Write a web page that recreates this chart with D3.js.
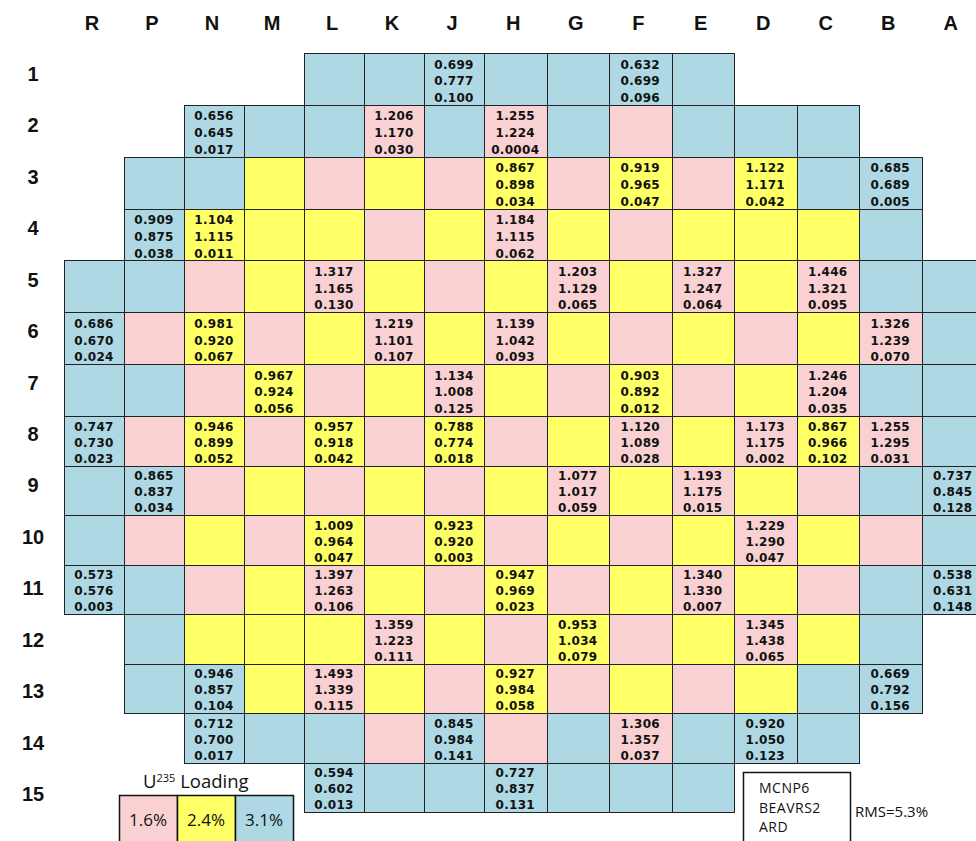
<!DOCTYPE html>
<html>
<meta charset="utf-8">
<title>Core map</title>
<style>
  html, body { margin: 0; padding: 0; background: #fff; }
  .hdr { font-family: "Liberation Sans", Arial, sans-serif; font-weight: bold; font-size: 20px; fill: #111; }
  .val { font-family: "DejaVu Sans", Verdana, sans-serif; font-weight: bold; font-size: 12px; fill: #111; letter-spacing: 0.3px; }
  .cell { stroke: #222; stroke-width: 1; shape-rendering: crispEdges; }
  .lg { font-family: "Open Sans", Lato, sans-serif; fill: #111; }
</style>
<body>
<div id="chart"></div>
<script src="https://cdn.jsdelivr.net/npm/d3@7"></script>
<script>
// assembly columns and rows
var colLetters = ["R", "P", "N", "M", "L", "K", "J", "H", "G", "F", "E", "D", "C", "B", "A"];
var rowNumbers = [1, 2, 3, 4, 5, 6, 7, 8, 9, 10, 11, 12, 13, 14, 15];

// U235 loading per position: p = 1.6%, y = 2.4%, b = 3.1%, . = no assembly
var loadingMap = [
  "....bbbbbbb....",
  "..bbbpbpbpbbb..",
  ".bbypypypypybb.",
  ".byyypypypyyyb.",
  "bbpypypypypypbb",
  "bpypypypypypypb",
  "bbpypypypypypbb",
  "bpypypypypypypb",
  "bbpypypypypypbb",
  "bpypypypypypypb",
  "bbpypypypypypbb",
  ".byyypypypypyb.",
  ".bbypypypypybb.",
  "..bbbpbpbpbbb..",
  "....bbbbbbb...."
];

// instrumented positions: MCNP6, BEAVRS2 measured, difference
var cellIds = ["J1", "F1", "N2", "K2", "H2", "H3", "F3", "D3", "B3", "P4", "N4", "H4",
  "L5", "G5", "E5", "C5", "R6", "N6", "K6", "H6", "B6", "M7", "J7", "F7", "C7",
  "R8", "N8", "L8", "J8", "F8", "D8", "C8", "B8", "P9", "G9", "E9", "A9",
  "L10", "J10", "D10", "R11", "L11", "H11", "E11", "A11", "K12", "G12", "D12",
  "N13", "L13", "H13", "B13", "N14", "J14", "F14", "D14", "L15", "H15"];
var mcnpValues = [0.699, 0.632, 0.656, 1.206, 1.255, 0.867, 0.919, 1.122, 0.685, 0.909, 1.104, 1.184,
  1.317, 1.203, 1.327, 1.446, 0.686, 0.981, 1.219, 1.139, 1.326, 0.967, 1.134, 0.903, 1.246,
  0.747, 0.946, 0.957, 0.788, 1.120, 1.173, 0.867, 1.255, 0.865, 1.077, 1.193, 0.737,
  1.009, 0.923, 1.229, 0.573, 1.397, 0.947, 1.340, 0.538, 1.359, 0.953, 1.345,
  0.946, 1.493, 0.927, 0.669, 0.712, 0.845, 1.306, 0.920, 0.594, 0.727];
var measuredValues = [0.777, 0.699, 0.645, 1.170, 1.224, 0.898, 0.965, 1.171, 0.689, 0.875, 1.115, 1.115,
  1.165, 1.129, 1.247, 1.321, 0.670, 0.920, 1.101, 1.042, 1.239, 0.924, 1.008, 0.892, 1.204,
  0.730, 0.899, 0.918, 0.774, 1.089, 1.175, 0.966, 1.295, 0.837, 1.017, 1.175, 0.845,
  0.964, 0.920, 1.290, 0.576, 1.263, 0.969, 1.330, 0.631, 1.223, 1.034, 1.438,
  0.857, 1.339, 0.984, 0.792, 0.700, 0.984, 1.357, 1.050, 0.602, 0.837];
var ardValues = [0.100, 0.096, 0.017, 0.030, 0.0004, 0.034, 0.047, 0.042, 0.005, 0.038, 0.011, 0.062,
  0.130, 0.065, 0.064, 0.095, 0.024, 0.067, 0.107, 0.093, 0.070, 0.056, 0.125, 0.012, 0.035,
  0.023, 0.052, 0.042, 0.018, 0.028, 0.002, 0.102, 0.031, 0.034, 0.059, 0.015, 0.128,
  0.047, 0.003, 0.047, 0.003, 0.106, 0.023, 0.007, 0.148, 0.111, 0.079, 0.065,
  0.104, 0.115, 0.058, 0.156, 0.017, 0.141, 0.037, 0.123, 0.013, 0.131];

var loadingKeys = ["p", "y", "b"];
var loadingLabels = ["1.6%", "2.4%", "3.1%"];
var legendTitle = "Loading";
var boxLines = ["MCNP6", "BEAVRS2", "ARD"];
var rmsText = "RMS=5.3%";

var width = 976, height = 841;

var fill = d3.scaleOrdinal()
  .domain(loadingKeys)
  .range(["#f9d1d3", "#ffff66", "#add8e4"]);

// the picture is a little wider on the right half and shorter on the lower half
var x = d3.scaleLinear().domain([0, 7, 15]).range([64, 484, 984]);
var y = d3.scaleLinear().domain([0, 7, 15]).range([53, 416, 812]);
// row numbers are spaced evenly, not quite on the cell centres
var rowLabelY = d3.scalePoint().domain(rowNumbers).range([74, 794]);

function fmt(v) {
  return (v > 0 && v < 0.001) ? v.toFixed(4) : v.toFixed(3);
}

var svg = d3.select("#chart").append("svg")
  .attr("width", width)
  .attr("height", height);

var cells = [];
loadingMap.forEach(function(row, r) {
  row.split("").forEach(function(k, c) {
    if (k !== ".") cells.push({ r: r, c: c, k: k });
  });
});

svg.append("g").selectAll("rect")
  .data(cells)
  .enter().append("rect")
  .attr("class", "cell")
  .attr("x", function(d) { return Math.round(x(d.c)) + 0.5; })
  .attr("y", function(d) { return Math.round(y(d.r)) + 0.5; })
  .attr("width", function(d) { return Math.round(x(d.c + 1)) - Math.round(x(d.c)); })
  .attr("height", function(d) { return Math.round(y(d.r + 1)) - Math.round(y(d.r)); })
  .style("fill", function(d) { return fill(d.k); });

// values
var readings = cellIds.map(function(id, i) {
  return {
    c: colLetters.indexOf(id[0]),
    r: +id.slice(1) - 1,
    lines: [mcnpValues[i], measuredValues[i], ardValues[i]]
  };
});

var vg = svg.append("g").selectAll("text")
  .data(readings)
  .enter().append("text")
  .attr("class", "val")
  .attr("text-anchor", "middle");

vg.selectAll("tspan")
  .data(function(d) {
    return d.lines.map(function(v, j) { return { d: d, v: v, j: j }; });
  })
  .enter().append("tspan")
  .attr("x", function(t) { return (x(t.d.c) + x(t.d.c + 1)) / 2; })
  .attr("y", function(t) {
    var top = y(t.d.r), h = y(t.d.r + 1) - top;
    return top + h * (0.3 + t.j * 0.322);
  })
  .text(function(t) { return fmt(t.v); });

// column letters and row numbers
svg.append("g").selectAll("text")
  .data(colLetters)
  .enter().append("text")
  .attr("class", "hdr")
  .attr("text-anchor", "middle")
  .attr("x", function(d, i) { return (x(i) + x(i + 1)) / 2 - 2; })
  .attr("y", 30)
  .text(function(d) { return d; });

svg.append("g").selectAll("text")
  .data(rowNumbers)
  .enter().append("text")
  .attr("class", "hdr")
  .attr("text-anchor", "middle")
  .attr("x", 33)
  .attr("y", function(d) { return rowLabelY(d) + 7; })
  .text(function(d) { return d; });

// legend
var lt = svg.append("text")
  .attr("class", "lg")
  .attr("x", 143)
  .attr("y", 788)
  .style("font-size", "18.5px");
lt.append("tspan").text("U");
lt.append("tspan").attr("dy", -6).style("font-size", "11px").text("235");
lt.append("tspan").attr("dy", 6).text(" " + legendTitle);

var lx = d3.scaleBand().domain(loadingKeys).range([119, 293]);
var lg = svg.append("g").selectAll("g")
  .data(loadingKeys)
  .enter().append("g");
lg.append("rect")
  .attr("x", function(d) { return lx(d) + 0.5; })
  .attr("y", 795.5)
  .attr("width", lx.bandwidth())
  .attr("height", 60)
  .style("fill", function(d) { return fill(d); })
  .style("stroke", "#111")
  .style("stroke-width", 1.5);
lg.append("text")
  .attr("class", "lg")
  .attr("text-anchor", "middle")
  .attr("x", function(d) { return lx(d) + lx.bandwidth() / 2; })
  .attr("y", 826)
  .style("font-size", "17px")
  .text(function(d, i) { return loadingLabels[i]; });

// method box
svg.append("rect")
  .attr("x", 743.5).attr("y", 772.5)
  .attr("width", 107).attr("height", 80)
  .style("fill", "none").style("stroke", "#111").style("stroke-width", 1.5);
svg.append("g").selectAll("text")
  .data(boxLines)
  .enter().append("text")
  .attr("class", "lg")
  .attr("x", 759)
  .attr("y", function(d, i) { return 793 + i * 19.5; })
  .style("font-size", "14px")
  .style("letter-spacing", "0.5px")
  .text(function(d) { return d; });
svg.append("text")
  .attr("class", "lg")
  .attr("x", 855)
  .attr("y", 817)
  .style("font-size", "15px")
  .text(rmsText);
</script>
</body>
</html>
